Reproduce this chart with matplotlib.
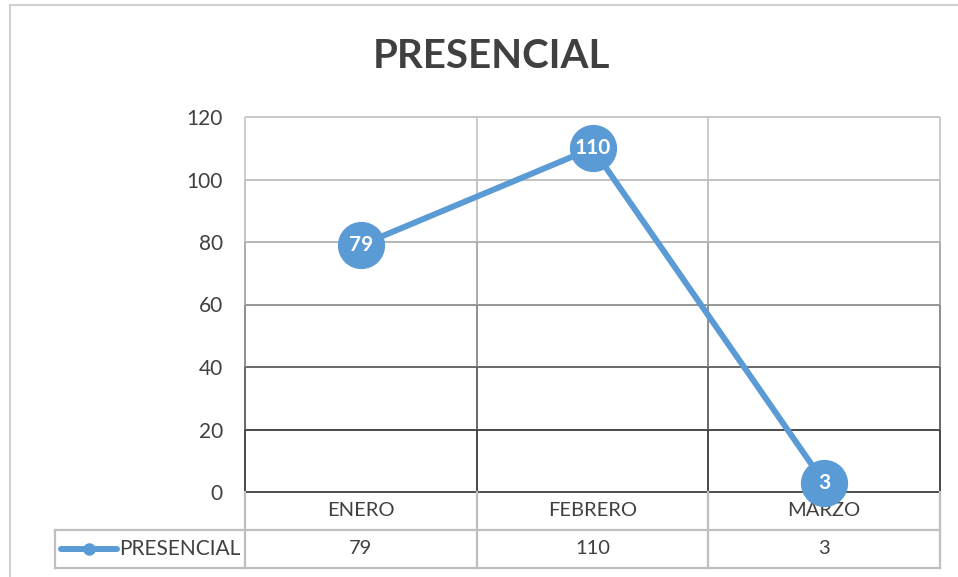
import matplotlib.pyplot as plt
from matplotlib.lines import Line2D
import numpy as np

plt.rcParams['font.family'] = ['Lato', 'DejaVu Sans']

# data
meses = ['ENERO', 'FEBRERO', 'MARZO']
presencial = [79, 110, 3]
serie = 'PRESENCIAL'
yticks = [0, 20, 40, 60, 80, 100, 120]

azul = '#5B9BD5'
texto = '#404040'

W, H = 958, 577
fig = plt.figure(figsize=(W / 100, H / 100), dpi=100)
ax = fig.add_axes([245 / W, 85 / H, 695 / W, 375 / H])

x = np.arange(len(meses))
ax.set_xlim(-0.5, len(meses) - 0.5)
ax.set_ylim(0, 120)
for s in ax.spines.values():
    s.set_visible(False)
ax.set_xticks([])
ax.set_yticks(yticks)
ax.set_yticklabels([str(v) for v in yticks], fontsize=15, color=texto)
ax.tick_params(axis='y', length=0, pad=16)

# gridlines, darker toward the bottom like the reference screenshot
hcol = {120: '#c4c4c4', 100: '#bdbdbd', 80: '#b0b0b0', 60: '#8c8c8c',
        40: '#5e5e5e', 20: '#3a3a3a', 0: '#404040'}
for v in yticks:
    ax.plot([-0.5, len(meses) - 0.5], [v, v], color=hcol[v], lw=1.3,
            zorder=1, clip_on=False, solid_capstyle='butt')
vcol = ['#383838', '#5a5a5a', '#858585', '#a5a5a5', '#bdbdbd', '#c8c8c8']
for xb in np.arange(-0.5, len(meses), 1.0):
    for i in range(6):
        ax.plot([xb, xb], [yticks[i], yticks[i + 1]], color=vcol[i], lw=1.3,
                zorder=1, clip_on=False, solid_capstyle='butt')

# series
ax.plot(x, presencial, color=azul, lw=4.3, zorder=3, clip_on=False,
        solid_capstyle='round')
ax.plot(x, presencial, 'o', color=azul, ms=33, zorder=4, clip_on=False,
        markeredgecolor=azul)
for xi, v in zip(x, presencial):
    ax.text(xi, v, str(v), ha='center', va='center', color='white',
            fontsize=15, fontweight='bold', zorder=5)

# data table below the plot
tr = ax.get_xaxis_transform()
r1 = -38 / 375
r2 = -76 / 375
tcol = '#bfbfbf'
left = -0.5 - 190 / 231.7
ax.plot([left, len(meses) - 0.5], [r1, r1], color=tcol, lw=1.6,
        transform=tr, clip_on=False, zorder=1)
ax.plot([left, len(meses) - 0.5], [r2, r2], color=tcol, lw=1.6,
        transform=tr, clip_on=False, zorder=1)
ax.plot([left, left], [r1, r2], color=tcol, lw=1.6,
        transform=tr, clip_on=False, zorder=1)
for xb in np.arange(-0.5, len(meses), 1.0):
    ax.plot([xb, xb], [0, r2], color=tcol, lw=1.6,
            transform=tr, clip_on=False, zorder=1)
for xi, m, v in zip(x, meses, presencial):
    ax.text(xi, (0 + r1) / 2, m, transform=tr, ha='center', va='center',
            fontsize=14.5, color=texto, zorder=2)
    ax.text(xi, (r1 + r2) / 2, str(v), transform=tr, ha='center',
            va='center', fontsize=14.5, color=texto)

# legend key inside the table
ym = (r1 + r2) / 2
kx0 = left + 6 / 231.7
kx1 = left + 62 / 231.7
ax.plot([kx0, kx1], [ym, ym], color=azul, lw=4.3, transform=tr,
        clip_on=False, solid_capstyle='round')
ax.plot([(kx0 + kx1) / 2], [ym], 'o', color=azul, ms=8, transform=tr,
        clip_on=False)
ax.text(kx1 + 2 / 231.7, ym, serie, transform=tr, ha='left', va='center',
        fontsize=15, color=texto)

# title
fig.text(491 / W, 1 - 57 / H, 'PRESENCIAL', ha='center', va='center',
         fontsize=29, fontweight='bold', color=texto)

# chart border (only top and left visible in the crop)
fig.add_artist(Line2D([10 / W, 1], [1 - 5 / H, 1 - 5 / H], color='#d0d0d0',
                      lw=1.5, transform=fig.transFigure))
fig.add_artist(Line2D([10 / W, 10 / W], [0, 1 - 5 / H], color='#d0d0d0',
                      lw=1.5, transform=fig.transFigure))

fig.savefig('out.png', dpi=100, facecolor='white')
